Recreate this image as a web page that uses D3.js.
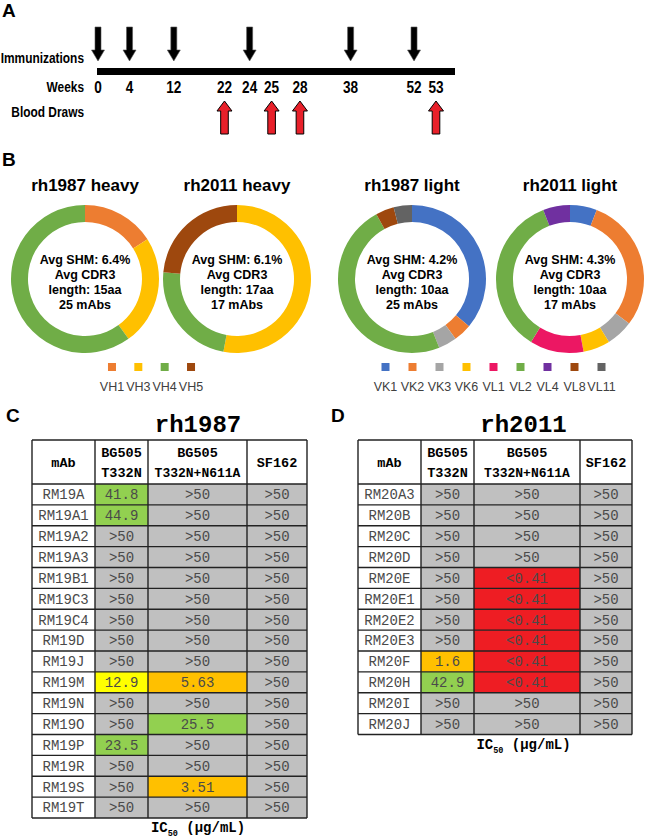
<!DOCTYPE html>
<html><head><meta charset="utf-8">
<script src="https://cdn.jsdelivr.net/npm/d3@7"></script>
<style>body{margin:0;background:#fff}</style>
</head><body><svg id="c" width="645" height="839"></svg>
<script>
// ---------- DATA ----------
const weeks = [0,4,12,22,24,25,28,38,52,53];
const immunizationWeeks = [0,4,12,24,38,52];
const bloodDrawWeeks = [22,25,28,53];

const heavyGenes = ["VH1","VH3","VH4","VH5"];
const lightGenes = ["VK1","VK2","VK3","VK6","VL1","VL2","VL4","VL8","VL11"];
const rh1987Heavy = [4,6,15,0];
const rh2011Heavy = [0,9,4,4];
const rh1987Light = [9,1,1,0,0,12,0,1,1];
const rh2011Light = [1,5,1,1,2,6,1,0,0];
const donutTitles = ["rh1987 heavy","rh2011 heavy","rh1987 light","rh2011 light"];
const avgSHM = ["6.4%","6.1%","4.2%","4.3%"];
const avgCDR3 = ["15aa","17aa","10aa","10aa"];
const mAbCounts = [25,17,25,17];

const tableHeaders = [["mAb"],["BG505","T332N"],["BG505","T332N+N611A"],["SF162"]];
const rh1987mAbs = ["RM19A","RM19A1","RM19A2","RM19A3","RM19B1","RM19C3","RM19C4","RM19D","RM19J","RM19M","RM19N","RM19O","RM19P","RM19R","RM19S","RM19T"];
const rh1987BG505 = ["41.8","44.9",">50",">50",">50",">50",">50",">50",">50","12.9",">50",">50","23.5",">50",">50",">50"];
const rh1987BG505N611A = [">50",">50",">50",">50",">50",">50",">50",">50",">50","5.63",">50","25.5",">50",">50","3.51",">50"];
const rh1987SF162 = [">50",">50",">50",">50",">50",">50",">50",">50",">50",">50",">50",">50",">50",">50",">50",">50"];
const rh2011mAbs = ["RM20A3","RM20B","RM20C","RM20D","RM20E","RM20E1","RM20E2","RM20E3","RM20F","RM20H","RM20I","RM20J"];
const rh2011BG505 = [">50",">50",">50",">50",">50",">50",">50",">50","1.6","42.9",">50",">50"];
const rh2011BG505N611A = [">50",">50",">50",">50","<0.41","<0.41","<0.41","<0.41","<0.41","<0.41",">50",">50"];
const rh2011SF162 = [">50",">50",">50",">50",">50",">50",">50",">50",">50",">50",">50",">50"];

// ---------- STYLES ----------
const geneColor = d3.scaleOrdinal()
  .domain(["VH1","VH3","VH4","VH5","VK1","VK2","VK3","VK6","VL1","VL2","VL4","VL8","VL11"])
  .range(["#ED7D31","#FFC000","#70AD47","#9E480E","#4472C4","#ED7D31","#A5A5A5","#FFC000","#EC1763","#70AD47","#7030A0","#9E480E","#636363"]);
const ic50Color = d3.scaleThreshold().domain([1,10,20,50])
  .range(["#EE1D23","#FFC000","#FFFF00","#92D050","#C0C0C0"]);
const parseIC = s => s.startsWith(">") ? 1000 : +s.replace("<","");

const svg = d3.select("#c");
svg.append("rect").attr("width",645).attr("height",839).attr("fill","#fff");
const SANS = "'Liberation Sans', Arial, sans-serif";
const MONO = "'Courier New', 'Liberation Mono', monospace";

function panelLetter(t,x,y){
  svg.append("text").attr("x",x).attr("y",y).text(t)
    .attr("font-family",SANS).attr("font-weight","bold").attr("font-size",19).attr("fill","#000");
}

// ---------- PANEL A ----------
panelLetter("A",2,17);
const xLin = d3.scaleLinear().domain(d3.extent(weeks)).range([98,436]);
const xPt = d3.scalePoint().domain(weeks).range([98,436]);
const wx = w => (xLin(w) + xPt(w)) / 2;

const gA = svg.append("g");
gA.append("rect").attr("x",xLin(0)-1).attr("y",68).attr("width",xLin(53)-xLin(0)+20).attr("height",7).attr("fill","#000");

function narrowText(g,t,x,y,size,anchor){
  return g.append("text").attr("transform",`translate(${x},${y}) scale(0.85,1)`)
    .attr("text-anchor",anchor).attr("font-family",SANS).attr("font-weight","bold")
    .attr("font-size",size).attr("fill","#000").text(t);
}
narrowText(gA,"Immunizations",84,63,14,"end");
narrowText(gA,"Weeks",84,92,14,"end");
narrowText(gA,"Blood Draws",84,117,14,"end");
weeks.forEach(w => narrowText(gA,String(w),wx(w),93,16,"middle"));

const line = d3.line();
gA.selectAll(".imm").data(immunizationWeeks).join("path")
  .attr("d", w => { const x = wx(w); return line([[x-3,27],[x+3,27],[x+3,50],[x+6.5,50],[x,61],[x-6.5,50],[x-3,50]]) + "Z"; })
  .attr("fill","#000").attr("stroke","#555").attr("stroke-width",0.6);
gA.selectAll(".bd").data(bloodDrawWeeks).join("path")
  .attr("d", w => { const x = wx(w); return line([[x,101],[x+7.5,111],[x+3.8,111],[x+3.8,134],[x-3.8,134],[x-3.8,111],[x-7.5,111]]) + "Z"; })
  .attr("fill","#E8202A").attr("stroke","#000").attr("stroke-width",1);

// ---------- PANEL B ----------
panelLetter("B",2,166);
const donutSets = [
  {genes:heavyGenes, counts:rh1987Heavy},
  {genes:heavyGenes, counts:rh2011Heavy},
  {genes:lightGenes, counts:rh1987Light},
  {genes:lightGenes, counts:rh2011Light}
];
const centersX = [85,237,412,570];
const cy = 279;
const pie = d3.pie().sort(null).value(d => d.n);
const arc = d3.arc().innerRadius(57).outerRadius(74);
donutSets.forEach((ds,i) => {
  const g = svg.append("g").attr("transform",`translate(${centersX[i]},${cy})`);
  const data = ds.genes.map((gname,k) => ({gene:gname, n:ds.counts[k]}));
  g.selectAll("path").data(pie(data).filter(d => d.data.n > 0)).join("path")
    .attr("d",arc).attr("fill",d => geneColor(d.data.gene));
  g.append("text").attr("y",-88).attr("text-anchor","middle")
    .attr("font-family",SANS).attr("font-weight","bold").attr("font-size",17).text(donutTitles[i]);
  const lines = [`Avg SHM: ${avgSHM[i]}`,"Avg CDR3",`length: ${avgCDR3[i]}`,`${mAbCounts[i]} mAbs`];
  g.selectAll(".ct").data(lines).join("text")
    .attr("y",(d,k) => -15 + k*15).attr("text-anchor","middle")
    .attr("font-family",SANS).attr("font-weight","bold").attr("font-size",12.5).text(d => d);
});
function legend(genes,x0,x1){
  const b = d3.scaleBand().domain(genes).range([x0,x1]);
  const g = svg.append("g");
  g.selectAll("rect").data(genes).join("rect")
    .attr("x",d => b(d)+b.bandwidth()/2-4).attr("y",363).attr("width",8).attr("height",8)
    .attr("fill",d => geneColor(d));
  g.selectAll("text").data(genes).join("text")
    .attr("x",d => b(d)+b.bandwidth()/2).attr("y",391).attr("text-anchor","middle")
    .attr("font-family",SANS).attr("font-size",12.5).attr("fill","#404040").text(d => d);
}
legend(heavyGenes,98.8,204.2);
legend(lightGenes,372,615);

// ---------- PANELS C / D ----------
panelLetter("C",6,422);
panelLetter("D",331,422);
function table(title,x0,widths,mAbs,cols){
  const g = svg.append("g");
  const top = 440, headH = 44, rowH = 20.875;
  const xs = [x0]; widths.forEach(w => xs.push(xs[xs.length-1]+w));
  const valMid = (xs[1]+xs[4])/2 - 3;
  g.append("text").attr("x",valMid).attr("y",432).attr("text-anchor","middle")
    .attr("font-family",MONO).attr("font-weight","bold").attr("font-size",24).text(title);
  tableHeaders.forEach((h,c) => {
    const cx = (xs[c]+xs[c+1])/2;
    h.forEach((t,k) => {
      g.append("text").attr("x",cx).attr("y",top+headH/2 + (h.length===1 ? 0 : (k===0?-10:10)))
        .attr("dy","0.35em").attr("text-anchor","middle")
        .attr("font-family",MONO).attr("font-weight","bold")
        .attr("font-size", t.length>8 ? 13 : 13.5).attr("fill","#000").text(t);
    });
  });
  const y = d3.scaleBand().domain(mAbs).range([top+headH, top+headH+rowH*mAbs.length]);
  mAbs.forEach((m,r) => {
    const ry = y(m);
    g.append("rect").attr("x",xs[0]).attr("y",ry).attr("width",widths[0]).attr("height",rowH).attr("fill","#fff");
    g.append("text").attr("x",(xs[0]+xs[1])/2).attr("y",ry+rowH/2).attr("dy","0.35em")
      .attr("text-anchor","middle").attr("font-family",MONO).attr("font-size",14).attr("fill","#4a4a4a").text(m);
    cols.forEach((col,c) => {
      const v = col[r];
      g.append("rect").attr("x",xs[c+1]).attr("y",ry).attr("width",widths[c+1]).attr("height",rowH)
        .attr("fill",ic50Color(parseIC(v)));
      g.append("text").attr("x",(xs[c+1]+xs[c+2])/2).attr("y",ry+rowH/2).attr("dy","0.35em")
        .attr("text-anchor","middle").attr("font-family",MONO).attr("font-size",14).attr("fill","#4a4a4a").text(v);
    });
  });
  const bottom = top+headH+rowH*mAbs.length;
  const hy = [top, top+headH].concat(mAbs.map(m => y(m)+rowH));
  hy.forEach(yy => g.append("line").attr("x1",xs[0]).attr("x2",xs[4]).attr("y1",yy).attr("y2",yy)
    .attr("stroke","#222").attr("stroke-width",1.4));
  xs.forEach(xx => g.append("line").attr("x1",xx).attr("x2",xx).attr("y1",top).attr("y2",bottom)
    .attr("stroke","#222").attr("stroke-width",1.4));
  const lab = g.append("text").attr("x",valMid).attr("y",bottom+14).attr("text-anchor","middle")
    .attr("font-family",MONO).attr("font-weight","bold").attr("font-size",14);
  lab.append("tspan").text("IC");
  lab.append("tspan").attr("font-size",8.5).attr("dy",4).text("50");
  lab.append("tspan").attr("dy",-4).text("\u00a0(\u00b5g/mL)");
}
table("rh1987",32,[63,53,99,60],rh1987mAbs,[rh1987BG505,rh1987BG505N611A,rh1987SF162]);
table("rh2011",358,[63,53,106,52],rh2011mAbs,[rh2011BG505,rh2011BG505N611A,rh2011SF162]);
</script></body></html>
